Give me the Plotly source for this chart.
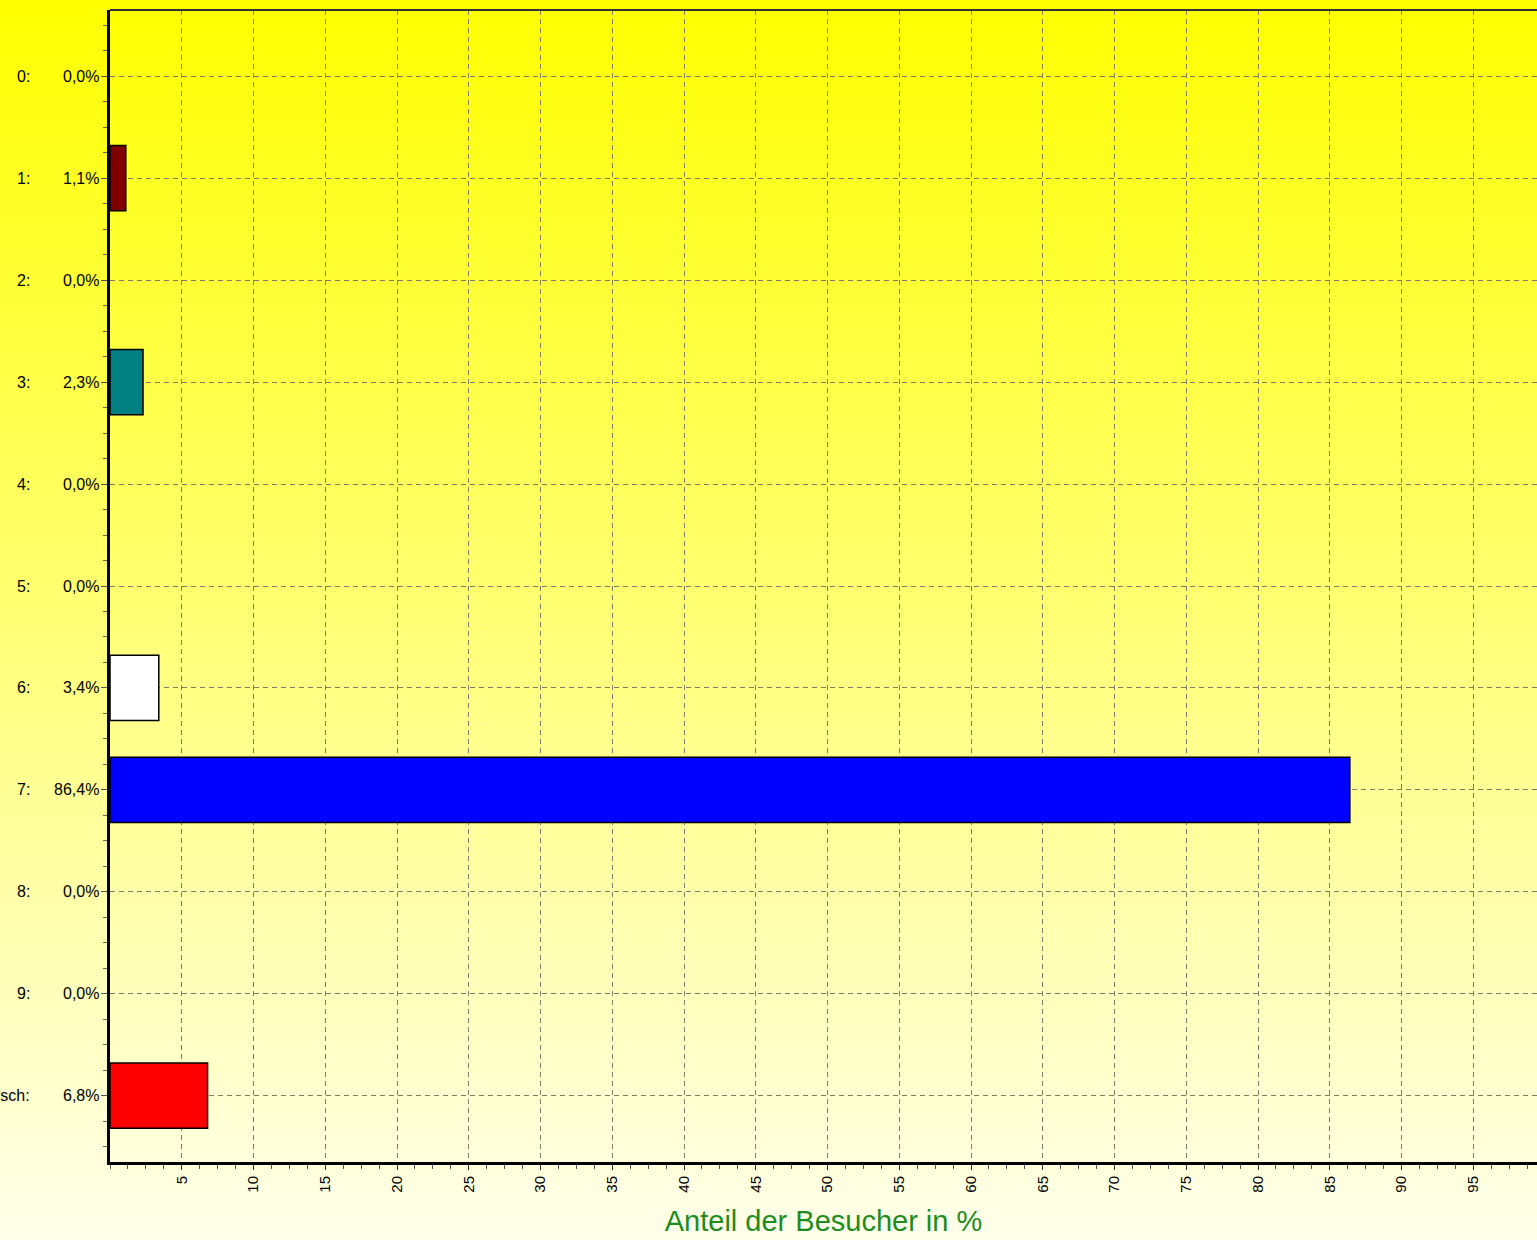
import plotly.graph_objects as go

categories = ["0:", "1:", "2:", "3:", "4:", "5:", "6:", "7:", "8:", "9:", "Falsch:"]
values = [0.0, 1.1, 0.0, 2.3, 0.0, 0.0, 3.4, 86.4, 0.0, 0.0, 6.8]
bar_colors = ["#800000", "#800000", "#008080", "#008080", "#808000", "#000080",
              "#FFFFFF", "#0000FF", "#00FF00", "#808080", "#FF0000"]
x_tick_vals = list(range(5, 100, 5))
x_title = "Anteil der Besucher in %"

W, H = 1537, 1240
ML, MT, MB, MR = 110, 10, 78, 0
plot_h = H - MT - MB
plot_w = W - ML - MR
FONT = "Liberation Sans, Arial, sans-serif"

ypos = list(range(len(categories)))

fig = go.Figure()
fig.add_trace(go.Bar(
    x=values, y=ypos, orientation="h", width=0.64,
    marker=dict(color=bar_colors,
                line=dict(color="black", width=[1.5 if v > 0 else 0 for v in values])),
    hoverinfo="x+y", showlegend=False,
))

# gradient background stripes
shapes = []
n = 155
step = H / n
for i in range(n):
    p0 = i * step
    p1 = (i + 1) * step + 0.6
    t = (p0 + step / 2) / H
    b = int(round(235 * t))
    y0 = (H - MB - p1) / plot_h
    y1 = (H - MB - p0) / plot_h
    shapes.append(dict(type="rect", xref="paper", yref="paper", x0=-0.2, x1=1.1,
                       y0=y0, y1=y1, fillcolor=f"rgb(255,255,{b})",
                       line=dict(width=0), layer="below"))
# top border line
shapes.append(dict(type="line", xref="paper", yref="paper", x0=0, x1=1.01, y0=1, y1=1,
                   line=dict(color="#333333", width=2), layer="above"))
fig.update_layout(shapes=shapes)

annotations = []
for i, (c, v) in enumerate(zip(categories, values)):
    annotations.append(dict(xref="paper", yref="y", x=(32 - ML) / plot_w, y=i, text=c,
                            showarrow=False, xanchor="right", yanchor="middle",
                            font=dict(family=FONT, size=16, color="black")))
    annotations.append(dict(xref="paper", yref="y", x=(101 - ML) / plot_w, y=i,
                            text=f"{v:.1f}".replace(".", ",") + "%",
                            showarrow=False, xanchor="right", yanchor="middle",
                            font=dict(family=FONT, size=16, color="black")))
fig.update_layout(annotations=annotations)

grid_col = "#7d7d66"
fig.update_xaxes(
    range=[0, plot_w / 14.35], tickvals=x_tick_vals, ticktext=[str(v) for v in x_tick_vals],
    tickangle=-90, ticks="outside", ticklen=5, tickcolor="#333333",
    tickfont=dict(family=FONT, size=15, color="black"),
    showgrid=True, gridcolor=grid_col, griddash="5px,4px", gridwidth=1,
    showline=True, linecolor="black", linewidth=3, zeroline=False,
    minor=dict(dtick=1.25, tick0=0, ticks="outside", ticklen=4, tickcolor="#555555", showgrid=False),
    title=dict(text=x_title, standoff=20,
               font=dict(family=FONT, size=29, color="#1e8c1e")),
)
fig.update_yaxes(
    range=[10.65, -0.65], tickvals=ypos, ticktext=[""] * len(ypos),
    ticks="outside", ticklen=6, tickcolor="#555555",
    showgrid=True, gridcolor=grid_col, griddash="5px,4px", gridwidth=1,
    showline=True, linecolor="black", linewidth=3, zeroline=False,
    minor=dict(dtick=0.25, tick0=-0.5, ticks="outside", ticklen=4, tickcolor="#666666", showgrid=False),
)

fig.update_layout(
    width=W, height=H,
    margin=dict(l=ML, r=MR, t=MT, b=MB, pad=0),
    paper_bgcolor="#ffffe8", plot_bgcolor="rgba(0,0,0,0)",
    bargap=0.36,
)

fig.write_html("out.html", config={"displayModeBar": False},
               post_script="document.body.style.margin='0';")
